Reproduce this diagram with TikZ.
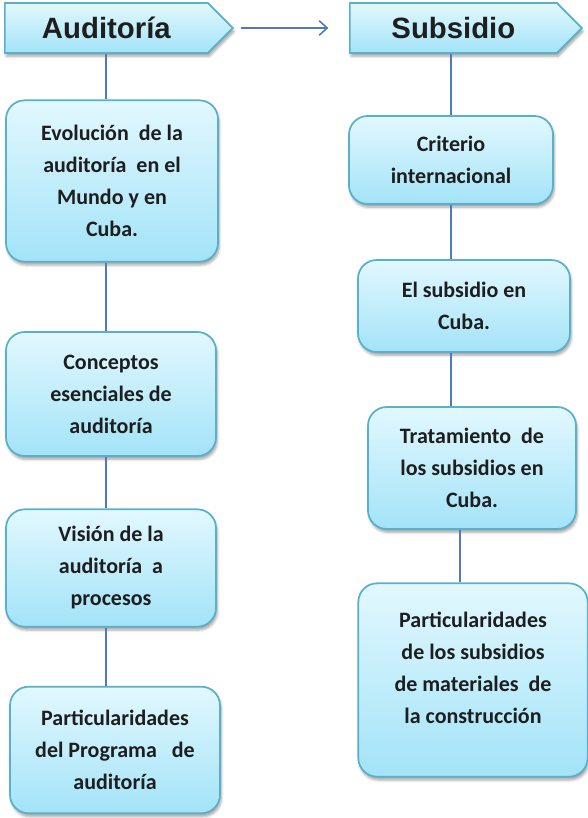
\documentclass[tikz,border=0pt]{standalone}
\usepackage{fontspec}
\setmainfont{Carlito}
\newfontfamily\titulofont{Liberation Sans}
\usetikzlibrary{shapes.symbols,shadows.blur,arrows.meta}

\definecolor{borde}{HTML}{58B0CC}
\definecolor{linea}{HTML}{5079BE}
\definecolor{claro}{HTML}{E2F8FE}
\definecolor{oscuro}{HTML}{A3E3F8}
\definecolor{texto}{HTML}{1E1E1E}

\begin{document}
\begin{tikzpicture}[x=0.75pt,y=-0.75pt,
    caja/.style={draw=borde, line width=1.3pt, rounded corners=14pt,
        top color=claro, bottom color=oscuro, align=center, text=texto,
        font=\bfseries\fontsize{16.5}{24}\selectfont,
        blur shadow={shadow xshift=1pt, shadow yshift=-2.5pt, shadow opacity=35}},
    titulo/.style={signal, signal to=east, signal pointer angle=90,
        draw=borde, line width=1.3pt, top color=claro, bottom color=oscuro,
        text=texto, font=\titulofont\bfseries\fontsize{22}{26}\selectfont,
        minimum height=37.5pt, anchor=west,
        blur shadow={shadow xshift=1pt, shadow yshift=-2.5pt, shadow opacity=35}},
    conector/.style={draw=linea, line width=1.2pt},
    flecha/.style={conector, -{Straight Barb[length=6pt, width=11pt]}}
]
\useasboundingbox (0,0) rectangle (588,818);

% Encabezados
\node[titulo, minimum width=171pt] (aud) at (4,28) {Auditoría};
\node[titulo, minimum width=174pt] (sub) at (349,28) {Subsidio};
\draw[flecha, shorten <=5pt, shorten >=15.5pt] (aud.east) -- (sub.west);

% Columna de auditoria
\node[caja, minimum width=159pt, minimum height=121pt] (evo) at (112,181)
    {Evolución\ \ de la\\auditoría\ \ en el\\Mundo y en\\Cuba.};
\node[caja, minimum width=157.5pt, minimum height=93pt] (con) at (111,394)
    {Conceptos\\esenciales de\\auditoría};
\node[caja, minimum width=157.5pt, minimum height=88pt] (vis) at (111,568)
    {Visión de la\\auditoría\ \ a\\procesos};
\node[caja, minimum width=157.5pt, minimum height=95pt] (pro) at (115,750)
    {Particularidades\\del Programa\ \ \ de\\auditoría};

% Columna de subsidio
\node[caja, minimum width=153pt, minimum height=66pt] (cri) at (451,160)
    {Criterio\\internacional};
\node[caja, minimum width=159pt, minimum height=69pt] (cub) at (464,306)
    {El subsidio en\\Cuba.};
\node[caja, minimum width=156pt, minimum height=91.5pt] (tra) at (472,468)
    {Tratamiento\ \ de\\los subsidios en\\Cuba.};
\node[caja, minimum width=172pt, minimum height=145pt] (mat) at (473,680)
    {Particularidades\\de los subsidios\\de materiales\ \ de\\la construcción\\[-5pt]\mbox{}};

% Lineas
\coordinate (ejeA) at (106,0);
\coordinate (ejeB) at (451,0);
\coordinate (ejeC) at (460,0);
\draw[conector] (aud.south -| ejeA) -- (evo.north -| ejeA);
\draw[conector] (evo.south -| ejeA) -- (con.north -| ejeA);
\draw[conector] (con.south -| ejeA) -- (vis.north -| ejeA);
\draw[conector] (vis.south -| ejeA) -- (pro.north -| ejeA);
\draw[conector] (sub.south -| ejeB) -- (cri.north -| ejeB);
\draw[conector] (cri.south -| ejeB) -- (cub.north -| ejeB);
\draw[conector] (cub.south -| ejeB) -- (tra.north -| ejeB);
\draw[conector] (tra.south -| ejeC) -- (mat.north -| ejeC);
\end{tikzpicture}
\end{document}
